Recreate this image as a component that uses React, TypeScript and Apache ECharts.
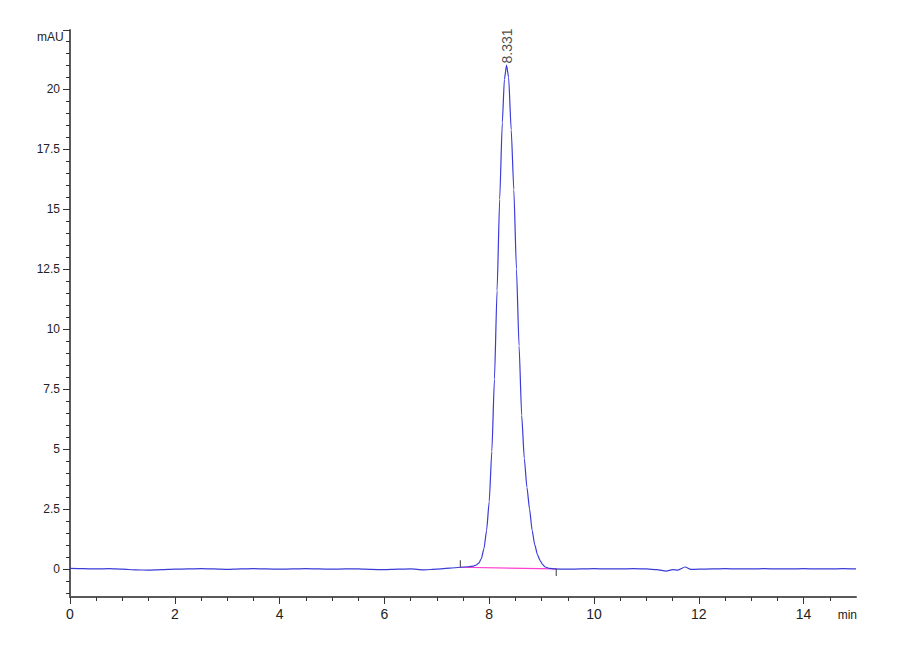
import { useRef, useEffect } from 'react'
import * as echarts from 'echarts'

// retention time (min) / absorbance (mAU)
const baselineBefore: [number, number][] = [
  [0, 0.02], [0.25, 0.01], [0.5, 0.0], [0.75, 0.01], [1.0, -0.01], [1.25, -0.04],
  [1.5, -0.05], [1.75, -0.03], [2.0, -0.01], [2.25, 0.0], [2.5, 0.01], [2.75, 0.0],
  [3.0, -0.02], [3.25, 0.0], [3.5, 0.01], [3.75, 0.0], [4.0, -0.01], [4.25, 0.0],
  [4.5, 0.01], [4.75, 0.0], [5.0, -0.01], [5.25, 0.0], [5.5, 0.0], [5.75, -0.02],
  [6.0, -0.03], [6.25, -0.01], [6.5, 0.0], [6.75, -0.04], [7.0, -0.01], [7.25, 0.03],
  [7.45, 0.07], [7.6, 0.09], [7.7, 0.12],
]

const peakTrace: [number, number][] = [
  [7.75, 0.16], [7.8, 0.24], [7.85, 0.43], [7.9, 0.85], [7.95, 1.6], [8.0, 2.8],
  [8.05, 4.9], [8.1, 7.9], [8.15, 11.6], [8.2, 15.4], [8.25, 18.6], [8.29, 20.4],
  [8.331, 21.0], [8.37, 20.5], [8.42, 18.3], [8.47, 15.8], [8.52, 12.5], [8.57, 9.3],
  [8.62, 6.4], [8.67, 4.6], [8.72, 3.4], [8.77, 2.5], [8.82, 1.6], [8.87, 1.0],
  [8.92, 0.6], [8.97, 0.35], [9.02, 0.18], [9.07, 0.08], [9.15, 0.02],
]

const baselineAfter: [number, number][] = [
  [9.25, 0.0], [9.5, -0.01], [9.75, 0.0], [10.0, 0.01], [10.25, 0.0], [10.5, 0.0],
  [10.75, 0.01], [11.0, 0.0], [11.2, -0.03], [11.38, -0.09], [11.5, -0.03], [11.6, -0.05],
  [11.74, 0.08], [11.85, -0.02], [12.0, -0.01], [12.25, 0.0], [12.5, 0.01], [12.75, 0.0],
  [13.0, 0.0], [13.25, 0.01], [13.5, 0.0], [13.75, 0.0], [14.0, 0.01], [14.25, 0.0],
  [14.5, 0.0], [14.75, 0.01], [15.0, 0.0],
]

// integration baseline start / end
const integrationBaseline: [number, number][] = [[7.45, 0.07], [9.28, 0.0]]
const peakTime = 8.331
const peakHeight = 21.0

const xTickLabels = [0, 2, 4, 6, 8, 10, 12, 14]
const yTickLabels = [0, 2.5, 5, 7.5, 10, 12.5, 15, 17.5, 20]
const xMin = 0
const xMax = 15
const yMin = -1.17
const yMax = 22.46

const range = (from: number, to: number, step: number) => {
  const out: number[] = []
  for (let v = from; v <= to + 1e-9; v += step) out.push(Math.round(v * 100) / 100)
  return out
}

const FONT = '"Liberation Sans", Arial, sans-serif'
const AXIS_COLOR = '#5a5a5a'

export default function App() {
  const chartRef = useRef<HTMLDivElement>(null)

  useEffect(() => {
    if (!chartRef.current) return
    const chart = echarts.init(chartRef.current, null, { renderer: 'svg' })

    const trace = [...baselineBefore, ...peakTrace, ...baselineAfter]

    const baseX = {
      type: 'value',
      min: xMin,
      max: xMax,
      position: 'bottom',
      splitLine: { show: false },
    }
    const baseY = {
      type: 'value',
      min: yMin,
      max: yMax,
      position: 'left',
      splitLine: { show: false },
    }

    chart.setOption({
      animation: false,
      backgroundColor: '#ffffff',
      grid: { left: 70, right: 44, top: 30, bottom: 63 },
      xAxis: [
        {
          ...baseX,
          axisLine: { show: true, onZero: false, lineStyle: { color: AXIS_COLOR, width: 2 } },
          axisTick: { show: true, customValues: xTickLabels, length: 7, lineStyle: { color: '#333', width: 1 } },
          axisLabel: { customValues: xTickLabels, fontSize: 14, color: '#222', fontFamily: FONT, margin: 10 },
        },
        {
          ...baseX,
          axisLine: { show: false, onZero: false },
          axisTick: { show: true, customValues: range(0, 14.5, 0.5), length: 4, lineStyle: { color: '#333', width: 1 } },
          axisLabel: { show: false },
        },
      ],
      yAxis: [
        {
          ...baseY,
          axisLine: { show: true, onZero: false, lineStyle: { color: AXIS_COLOR, width: 2 } },
          axisTick: { show: true, customValues: [...yTickLabels, yMax], length: 7, lineStyle: { color: '#333', width: 1 } },
          axisLabel: { customValues: yTickLabels, fontSize: 12, color: '#222', fontFamily: FONT, margin: 10 },
        },
        {
          ...baseY,
          axisLine: { show: false, onZero: false },
          axisTick: { show: true, customValues: range(-1, 22, 0.5), length: 4, lineStyle: { color: '#333', width: 1 } },
          axisLabel: { show: false },
        },
      ],
      graphic: [
        {
          type: 'text',
          left: 37,
          top: 31,
          style: { text: 'mAU', fontSize: 12, fill: '#222', fontFamily: FONT },
        },
        {
          type: 'text',
          right: 43,
          top: 609,
          style: { text: 'min', fontSize: 12, fill: '#222', fontFamily: FONT },
        },
      ],
      series: [
        {
          type: 'line',
          xAxisIndex: 0,
          yAxisIndex: 0,
          data: integrationBaseline,
          showSymbol: false,
          lineStyle: { color: '#ff3fcf', width: 1.2 },
          z: 2,
        },
        {
          type: 'line',
          xAxisIndex: 0,
          yAxisIndex: 0,
          data: trace,
          showSymbol: false,
          smooth: 0.2,
          smoothMonotone: 'x',
          lineStyle: { color: '#3b3bd8', width: 1.2 },
          z: 3,
        },
        {
          type: 'scatter',
          xAxisIndex: 0,
          yAxisIndex: 0,
          symbol: 'rect',
          symbolSize: [1.2, 7],
          itemStyle: { color: '#333' },
          data: [
            { value: integrationBaseline[0], symbolOffset: [0, -3.5] },
            { value: integrationBaseline[1], symbolOffset: [0, 3.5] },
          ],
          z: 4,
        },
        {
          type: 'scatter',
          xAxisIndex: 0,
          yAxisIndex: 0,
          symbolSize: 1,
          itemStyle: { color: 'rgba(0,0,0,0)' },
          data: [[peakTime, peakHeight]],
          label: {
            show: true,
            formatter: peakTime.toFixed(3),
            position: 'top',
            distance: 1,
            rotate: 90,
            align: 'left',
            verticalAlign: 'middle',
            fontSize: 14,
            color: '#1a1a1a',
            fontFamily: FONT,
          },
          z: 5,
        },
      ],
    })

    return () => {
      chart.dispose()
    }
  }, [])

  return (
    <div
      ref={chartRef}
      style={{ position: 'fixed', left: 0, top: 0, width: 900, height: 660, background: '#fff' }}
    />
  )
}
